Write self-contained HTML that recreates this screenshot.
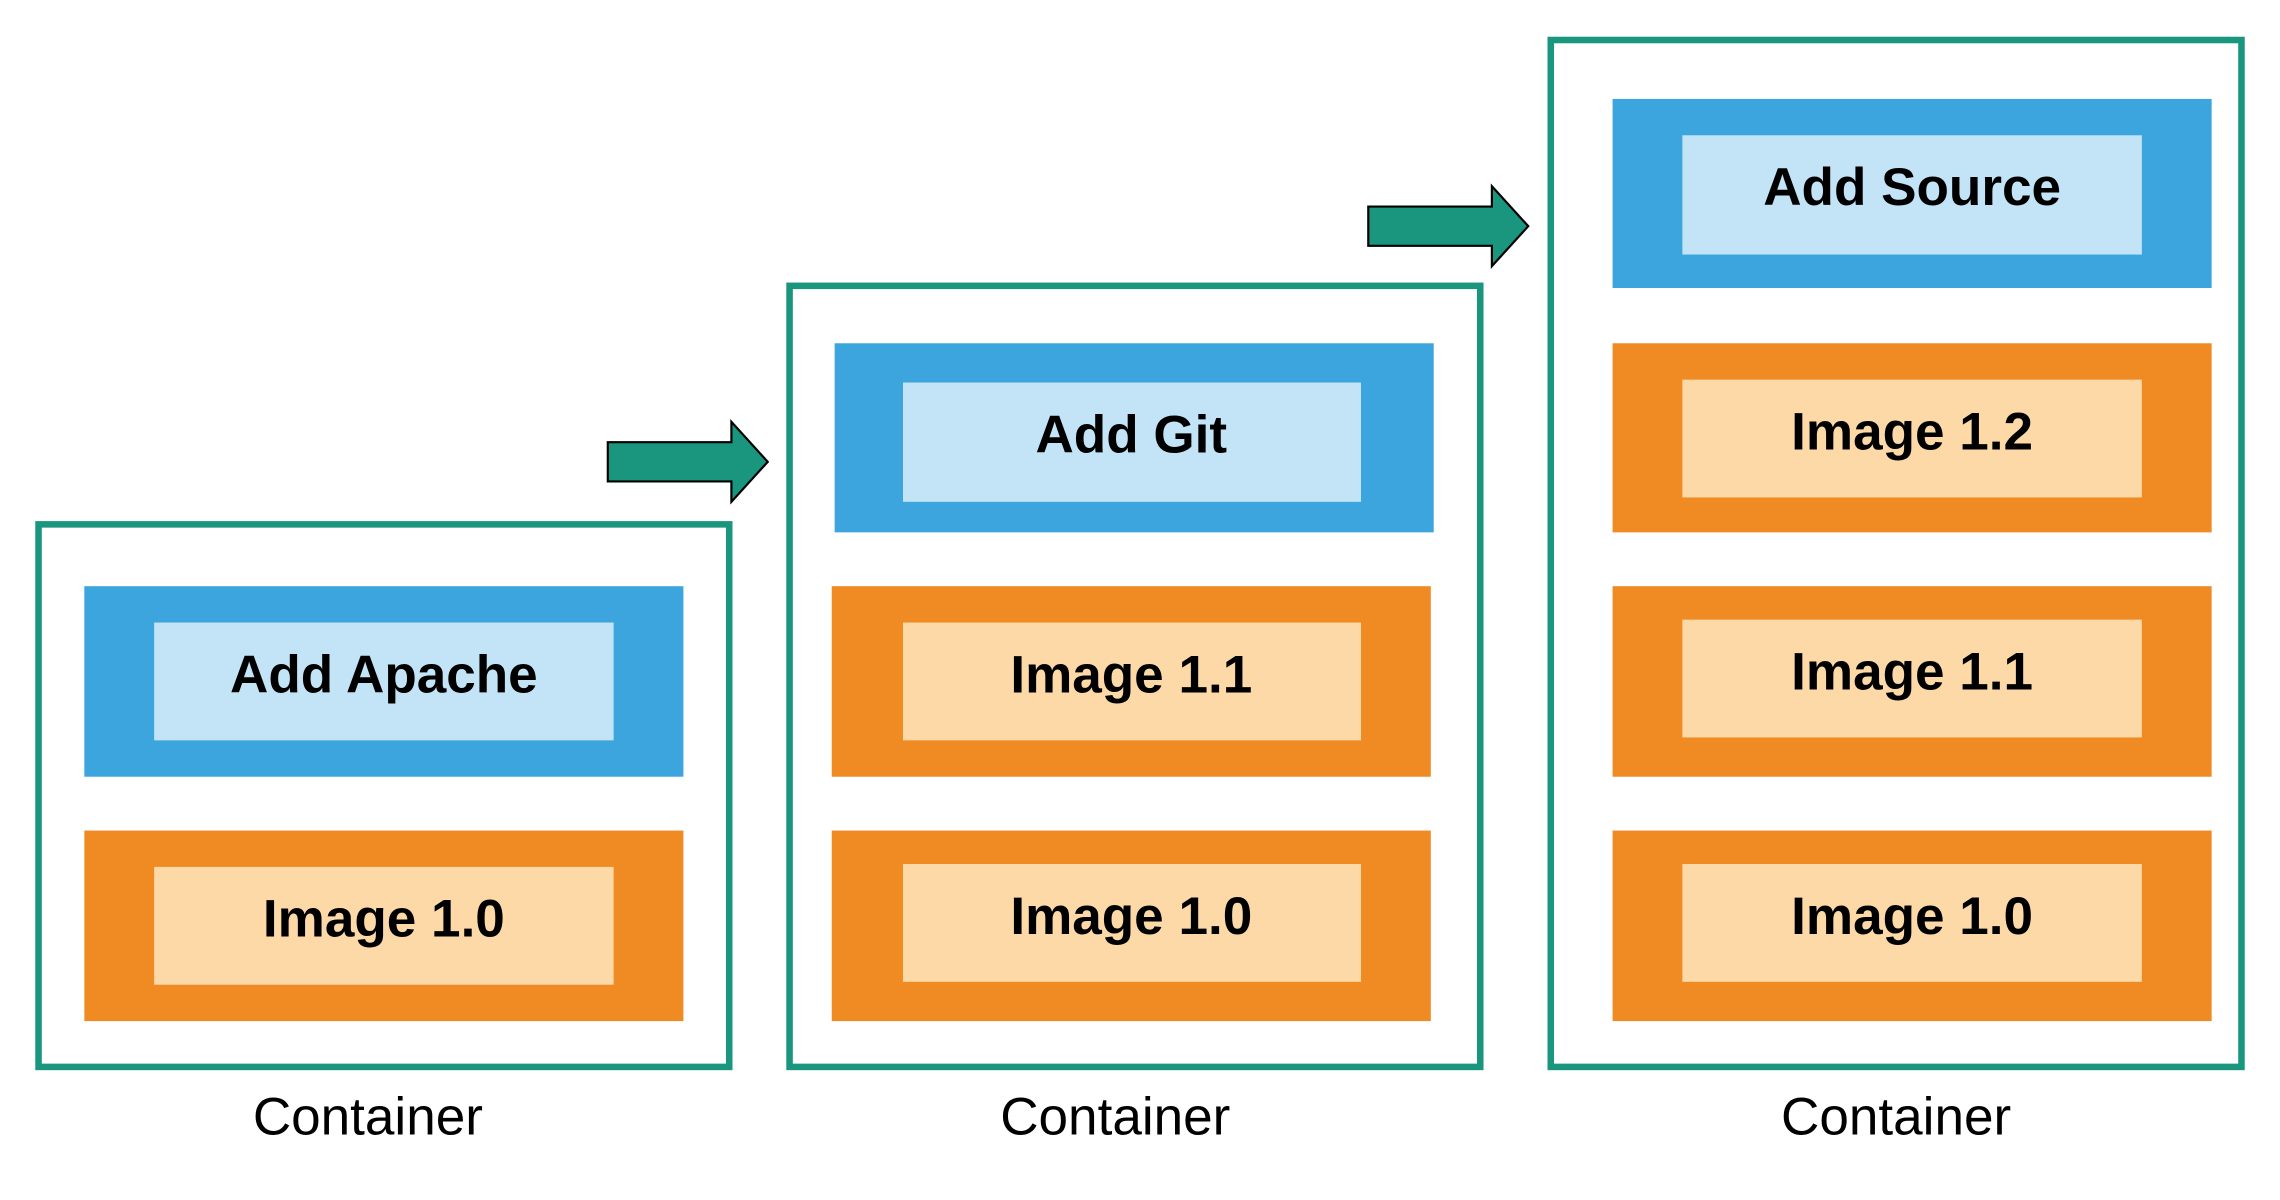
<!DOCTYPE html>
<html><head><meta charset="utf-8"><style>
html,body{margin:0;padding:0;background:#fff;}
svg{display:block}
text{font-family:"Liberation Sans",sans-serif;}
.t{font-weight:bold;font-size:36.5px;fill:#000;text-anchor:middle;}
.c{font-size:36.5px;fill:#000;text-anchor:middle;}
</style></head><body>
<svg width="2280" height="1200" viewBox="0 0 1568 825" preserveAspectRatio="none" xmlns="http://www.w3.org/2000/svg">
<rect width="1568" height="825" fill="#fff"/>
<g fill="none" stroke="#1a967e" stroke-width="4.5">
<rect x="26.5" y="360.5" width="475" height="373"/>
<rect x="543" y="196.5" width="475" height="537"/>
<rect x="1066.5" y="27.5" width="475" height="706"/>
</g>
<rect x="58" y="403" width="412" height="131" fill="#3ca5dd"/>
<rect x="106" y="428" width="316" height="81" fill="#c2e4f6"/>
<text class="t" x="264" y="476">Add Apache</text>
<rect x="58" y="571" width="412" height="131" fill="#ef8b22"/>
<rect x="106" y="596" width="316" height="81" fill="#fdd9a8"/>
<text class="t" x="264" y="644">Image 1.0</text>
<rect x="574" y="236" width="412" height="130" fill="#3ca5dd"/>
<rect x="621" y="263" width="315" height="82" fill="#c2e4f6"/>
<text class="t" x="778" y="311">Add Git</text>
<rect x="572" y="403" width="412" height="131" fill="#ef8b22"/>
<rect x="621" y="428" width="315" height="81" fill="#fdd9a8"/>
<text class="t" x="778" y="476">Image 1.1</text>
<rect x="572" y="571" width="412" height="131" fill="#ef8b22"/>
<rect x="621" y="594" width="315" height="81" fill="#fdd9a8"/>
<text class="t" x="778" y="642">Image 1.0</text>
<rect x="1109" y="68" width="412" height="130" fill="#3ca5dd"/>
<rect x="1157" y="93" width="316" height="82" fill="#c2e4f6"/>
<text class="t" x="1315" y="141">Add Source</text>
<rect x="1109" y="236" width="412" height="130" fill="#ef8b22"/>
<rect x="1157" y="261" width="316" height="81" fill="#fdd9a8"/>
<text class="t" x="1315" y="309">Image 1.2</text>
<rect x="1109" y="403" width="412" height="131" fill="#ef8b22"/>
<rect x="1157" y="426" width="316" height="81" fill="#fdd9a8"/>
<text class="t" x="1315" y="474">Image 1.1</text>
<rect x="1109" y="571" width="412" height="131" fill="#ef8b22"/>
<rect x="1157" y="594" width="316" height="81" fill="#fdd9a8"/>
<text class="t" x="1315" y="642">Image 1.0</text>
<polygon points="418,304 503,304 503,290 528,317.5 503,345 503,331 418,331" fill="#1a967e" stroke="#000" stroke-width="1.5"/>
<polygon points="941,142 1026,142 1026,128 1051,155.5 1026,183 1026,169 941,169" fill="#1a967e" stroke="#000" stroke-width="1.5"/>
<text class="c" x="253" y="780">Container</text>
<text class="c" x="767" y="780">Container</text>
<text class="c" x="1304" y="780">Container</text>
</svg>
</body></html>
